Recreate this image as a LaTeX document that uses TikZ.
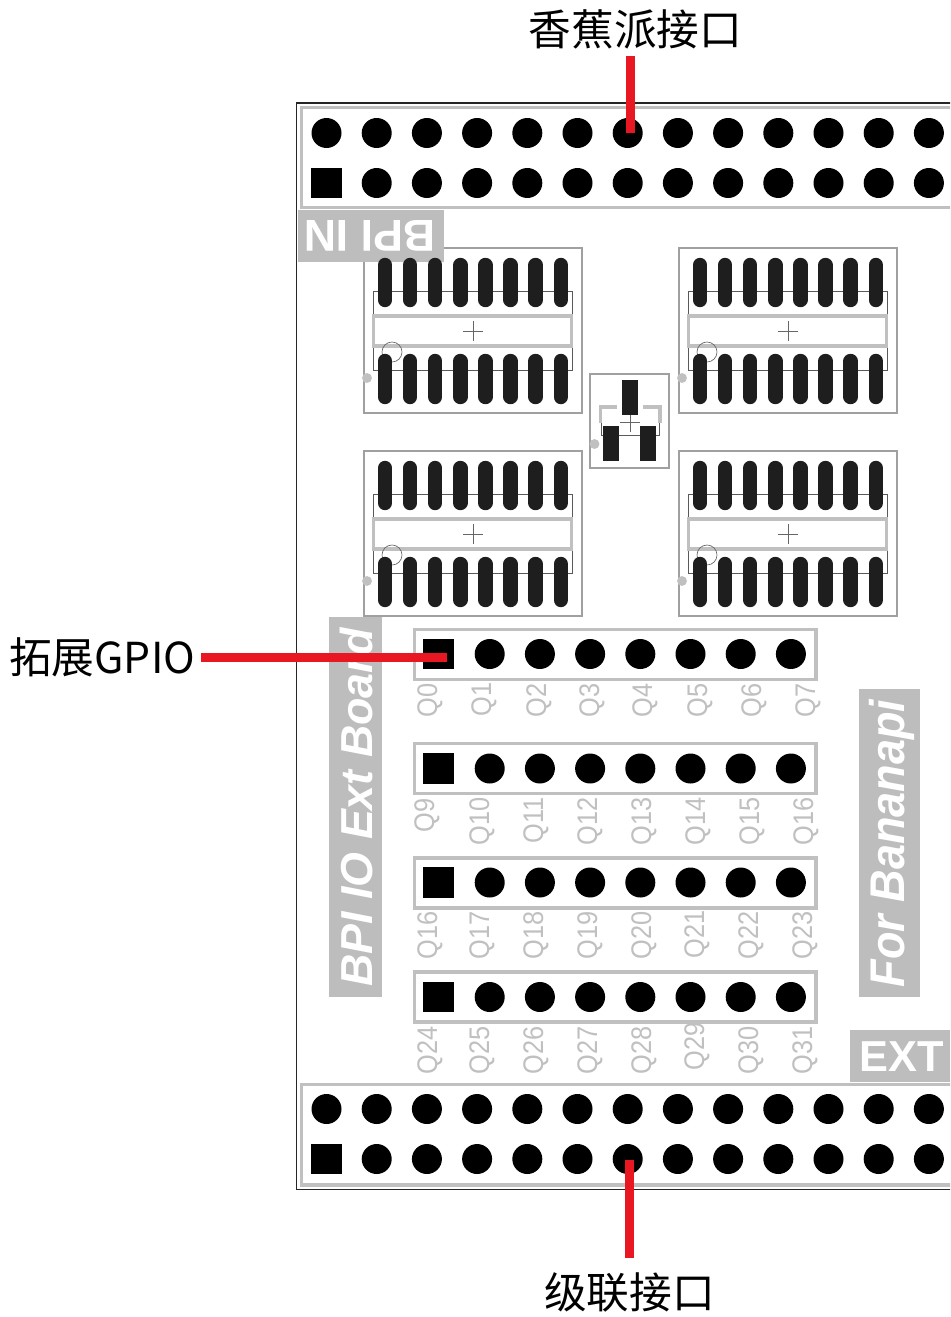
\documentclass[tikz,border=0pt]{standalone}
\usepackage{fontspec}
\setmainfont{Liberation Sans}
\newfontfamily\cjk{Noto Sans CJK SC}
\definecolor{silk}{HTML}{C0C0C0}
\definecolor{tag}{HTML}{BDBDBD}
\definecolor{padic}{HTML}{1E1E1E}
\definecolor{edgeic}{HTML}{A0A0A0}
\definecolor{redline}{HTML}{E81722}
\tikzset{
  pinc/.style={circle,fill=black,inner sep=0pt,minimum size=22.5pt},
  pins/.style={rectangle,fill=black,inner sep=0pt,minimum size=23pt},
  silkframe/.style={draw=silk,line width=2.6pt},
  tagbox/.style={fill=tag},
  tagtext/.style={text=white,font=\bfseries,inner sep=0pt},
  qlabel/.style={text=silk,rotate=90,anchor=base east,inner sep=0pt,font=\fontsize{19pt}{19pt}\selectfont},
  wire/.style={draw=redline,line width=6.75pt},
  cnlabel/.style={font=\cjk\fontsize{32pt}{36pt}\selectfont,text=black,inner ysep=0pt,inner xsep=0pt},
  icedge/.style={draw=edgeic,line width=0.95pt},
  icinner/.style={draw=black!65,line width=0.7pt},
  icpad/.style={draw=padic,line width=10.8pt,line cap=round},
  icmark/.style={draw=black!60,line width=0.5pt},
  icdot/.style={fill=silk},
}
\newcommand{\icoutline}[2]{%
  \begin{scope}[shift={(#1,#2)}]
    \draw[icedge] (364,248) rectangle (582,413);
  \end{scope}}
\newcommand{\icbody}[2]{%
  \begin{scope}[shift={(#1,#2)}]
    \draw[icinner] (373,291) rectangle (572,370);
    \draw[draw=silk,fill=white,line width=2.4pt] (373.5,316) rectangle (571.5,346);
    \draw[icmark] (463,331) -- (483,331) (473,321) -- (473,341);
    \draw[icmark] (392,352) circle [radius=7.5pt];
    \fill[icdot] (367,378) circle [radius=3.7pt];
    \foreach \k in {0,...,7}{
      \draw[icpad] ({385+25.1*\k},265) -- ({385+25.1*\k},300);
      \draw[icpad] ({385+25.1*\k},361) -- ({385+25.1*\k},397);
    }
  \end{scope}}
\newcommand{\longheader}[3]{% prefix, y top row, y bottom row
  \foreach \k in {0,...,12}{
    \node[pinc] (#1a\k) at ({326.5+50.2*\k},#2) {};
  }
  \node[pins] (#1b0) at (326.5,#3) {};
  \foreach \k in {1,...,12}{
    \node[pinc] (#1b\k) at ({326.5+50.2*\k},#3) {};
  }}
\newcommand{\qheader}[3]{% prefix, y top of frame, pin y
  \draw[silkframe] (414.5,#2) rectangle (816,{#2+50});
  \node[pins] (#1p0) at (438.5,#3) {};
  \foreach \k in {1,...,7}{
    \node[pinc] (#1p\k) at ({439.5+50.2*\k},#3) {};
  }}
\newcommand{\qtext}[3]{\node[qlabel] at (#1,#2) {\scalebox{1}[1.12]{#3}};}
\begin{document}
\begin{tikzpicture}[x=0.75pt,y=-0.75pt]
\useasboundingbox (0,0) rectangle (950,1317);
\begin{scope}
\clip (0,0) rectangle (950,1317);
% board outline
\draw[draw=black!85,line width=1.1pt] (1000,103) -- (296.5,103) -- (296.5,1189.5) -- (1000,1189.5);
% silk frames of the long headers
\draw[silkframe] (1000,107.5) -- (301.5,107.5) -- (301.5,207.5) -- (1000,207.5);
\draw[silkframe] (1000,1084.5) -- (301.5,1084.5) -- (301.5,1185) -- (1000,1185);
% IC outlines
\icoutline{0}{0}
\icoutline{315}{0}
\icoutline{0}{203}
\icoutline{315}{203}
% tags
\fill[tagbox] (298,210) rectangle (444,262);
\node[tagtext,rotate=180,font=\fontsize{33.5pt}{33.5pt}\bfseries\selectfont] (bpiin) at (370,236) {BPI IN};
\fill[tagbox] (329,617) rectangle (382,997);
\node[tagtext,rotate=90,anchor=base,font=\fontsize{33.6pt}{34pt}\bfseries\itshape\selectfont] (ioext) at (372,807.5) {BPI IO Ext Board};
\fill[tagbox] (859,689) rectangle (920,997);
\node[tagtext,rotate=90,anchor=base,font=\fontsize{33.8pt}{36pt}\bfseries\itshape\selectfont] (forbp) at (904,843.5) {\scalebox{1}[1.08]{For Bananapi}};
\fill[tagbox] (850,1030) rectangle (950,1082);
\node[tagtext,anchor=base,font=\fontsize{32.5pt}{32.5pt}\bfseries\selectfont] (ext) at (901.5,1071.5) {EXT};
% ICs
\icbody{0}{0}
\icbody{315}{0}
\icbody{0}{203}
\icbody{315}{203}
% transistor
\draw[icedge] (590,374) rectangle (669,468);
\draw[icinner] (601,423) -- (601,435) -- (659,435) -- (659,423);
\draw[draw=silk,line width=2.4pt] (617,407) -- (600.5,407) -- (600.5,423);
\draw[draw=silk,line width=2.4pt] (643,407) -- (660,407) -- (660,423);
\draw[icmark] (620,422) -- (640,422) (630,412) -- (630,432);
\fill[icdot] (594.5,444) circle [radius=3.7pt];
\fill[padic] (622,380) rectangle (638,415);
\fill[padic] (603,426) rectangle (619,461);
\fill[padic] (640,426) rectangle (656,461);
% long headers
\longheader{t}{133}{183}
\longheader{u}{1109}{1159}
% short headers
\qheader{r}{629.5}{654}
\qheader{s}{743.5}{768.5}
\qheader{v}{858}{882.5}
\qheader{w}{972}{997}
% Q labels
\qtext{437}{683}{Q0}\qtext{491}{682}{Q1}\qtext{546}{683}{Q2}\qtext{599}{683}{Q3}
\qtext{652}{683}{Q4}\qtext{707}{683}{Q5}\qtext{761}{683}{Q6}\qtext{815}{683}{Q7}
\qtext{434}{798}{Q9}\qtext{489}{797}{Q10}\qtext{543}{797}{Q11}\qtext{597}{797}{Q12}
\qtext{651}{797}{Q13}\qtext{705}{797}{Q14}\qtext{759}{797}{Q15}\qtext{813}{797}{Q16}
\qtext{437}{911}{Q16}\qtext{489}{911}{Q17}\qtext{543}{911}{Q18}\qtext{597}{911}{Q19}
\qtext{651}{911}{Q20}\qtext{704}{910}{Q21}\qtext{758}{911}{Q22}\qtext{812}{911}{Q23}
\qtext{437}{1026}{Q24}\qtext{489}{1026}{Q25}\qtext{543}{1026}{Q26}\qtext{597}{1026}{Q27}
\qtext{651}{1026}{Q28}\qtext{704}{1022}{Q29}\qtext{758}{1026}{Q30}\qtext{812}{1026}{Q31}
% labels and connectors
\node[cnlabel,minimum height=40.5pt] (lbltop) at (635.5,29) {香蕉派接口};
\node[cnlabel,anchor=west,inner xsep=4.5pt] (lblgpio) at (3,657.5) {拓展GPIO};
\node[cnlabel,minimum height=51pt] (lblcas) at (629.5,1292) {级联接口};
\coordinate (topend) at (630.5,133);
\coordinate (gpioend) at (447,657.5);
\coordinate (casend) at (629,1160);
\draw[wire] (lbltop.south -| topend) -- (topend);
\draw[wire] (lblgpio.east) -- (gpioend);
\draw[wire] (lblcas.north -| casend) -- (casend);
\end{scope}
\end{tikzpicture}
\end{document}
